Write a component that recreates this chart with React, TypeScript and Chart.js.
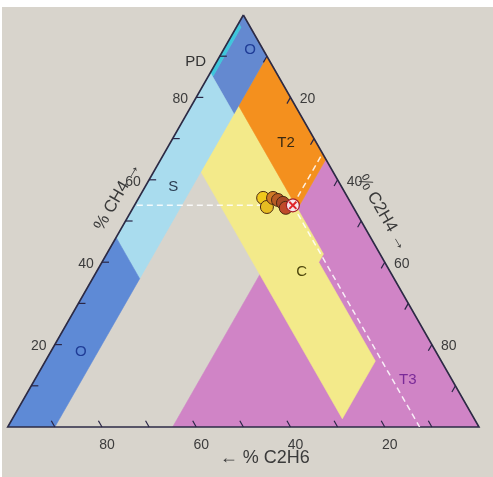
import React, { useEffect, useRef } from "react";
import { Chart, registerables } from "chart.js";

Chart.register(...registerables);

const SQ = Math.sqrt(3) / 2;
const FONT = "'Liberation Sans', Arial, sans-serif";

// Gas samples in percent (CH4, C2H4, C2H6); the last one is the latest sample
const sampleCH4 = [55.6, 53.4, 55.6, 55.1, 54.4, 53.2, 53.8];
const sampleC2H4 = [26.4, 28.3, 28.5, 29.8, 31.2, 32.4, 33.6];
const sampleC2H6 = [18.0, 18.3, 15.9, 15.1, 14.4, 14.4, 12.6];
const sampleColors = ["#f0c81c", "#e6bc22", "#cf7a26", "#b85c24", "#a94a26", "#bf4a2a"];

// Axis ticks
const tickValues = [10, 20, 30, 40, 50, 60, 70, 80, 90];
const labeledTicks = [20, 40, 60, 80];
const axisTitles = ["% CH4 \u2192", "% C2H4 \u2192", "\u2190 % C2H6"];

// Zone polygons, vertices as [CH4, C2H4, C2H6]
const zoneT3 = [[65, 35, 0], [0, 100, 0], [0, 35, 65]];
const zoneC = [[78, 10, 12], [53, 35, 12], [42, 46, 12], [40, 46, 14], [16, 70, 14], [2, 70, 28], [62, 10, 28]];
const zoneT2 = [[90, 10, 0], [65, 35, 0], [53, 35, 12], [78, 10, 12]];
const zoneOTop = [[100, 0, 0], [98, 0, 2], [97, 1, 2], [85, 1, 14], [76, 10, 14], [90, 10, 0]];
const zonePD = [[98, 0, 2], [97, 1, 2], [85, 1, 14], [86, 0, 14]];
const zoneS = [[86, 0, 14], [46, 0, 54], [36, 10, 54], [76, 10, 14]];
const zoneOBottom = [[46, 0, 54], [0, 0, 100], [0, 10, 90], [36, 10, 54]];
const triangle = [[100, 0, 0], [0, 100, 0], [0, 0, 100]];

const zones = [
  { poly: zoneT3, color: "#d084c6" },
  { poly: zoneC, color: "#f3ea8a" },
  { poly: zoneT2, color: "#f4901e" },
  { poly: zoneOTop, color: "#6489d0" },
  { poly: zonePD, color: "#3ec6dc" },
  { poly: zoneS, color: "#a9dcee" },
  { poly: zoneOBottom, color: "#5e8ad6" },
];

// Zone name annotations (anchor in [CH4, C2H4, C2H6])
const zoneNames = [
  { text: "PD", at: [88.6, -4.4, 15.8], color: "#333333" },
  { text: "O", at: [91.5, 5.7, 2.8], color: "#1f3c96" },
  { text: "S", at: [58.3, 6.0, 35.7], color: "#2b3d52" },
  { text: "T2", at: [68.9, 24.6, 6.5], color: "#3a2a12" },
  { text: "C", at: [37.6, 43.6, 18.8], color: "#4e470c" },
  { text: "T3", at: [11.4, 79.2, 9.4], color: "#7a2a98" },
  { text: "O", at: [18.2, 6.4, 75.4], color: "#1f3c96" },
];

const T = (p: number[]) => ({ x: (p[1] + p[0] / 2) / 100, y: (p[0] / 100) * SQ });
const closed = (poly: number[][]) => [...poly, poly[0]].map(T);

function px(chart: any, p: number[]) {
  const xy = T(p);
  return [chart.scales.x.getPixelForValue(xy.x), chart.scales.y.getPixelForValue(xy.y)];
}

const decorPlugin = {
  id: "ternaryDecor",
  beforeDraw(chart: any) {
    const { ctx, width, height } = chart;
    ctx.save();
    ctx.fillStyle = "#ffffff";
    ctx.fillRect(0, 0, width, height);
    ctx.fillStyle = "#d8d4cc";
    ctx.fillRect(2, 7, width - 2, height - 7);
    ctx.restore();
  },
  afterDatasetsDraw(chart: any) {
    const ctx = chart.ctx;
    ctx.save();
    const seg = (a: number[], b: number[]) => {
      ctx.beginPath();
      ctx.moveTo(a[0], a[1]);
      ctx.lineTo(b[0], b[1]);
      ctx.stroke();
    };
    ctx.strokeStyle = "#2a2646";
    ctx.lineWidth = 1.2;
    tickValues.forEach((v) => {
      seg(px(chart, [v, 0, 100 - v]), px(chart, [v, 1.5, 98.5 - v]));
      seg(px(chart, [100 - v, v, 0]), px(chart, [98.5 - v, v, 1.5]));
      seg(px(chart, [0, 100 - v, v]), px(chart, [1.5, 98.5 - v, v]));
    });

    ctx.textAlign = "center";
    ctx.textBaseline = "middle";
    ctx.font = `14px ${FONT}`;
    ctx.fillStyle = "#3c3c3c";
    labeledTicks.forEach((v) => {
      const l = px(chart, [v, 0, 100 - v]);
      ctx.fillText(String(v), l[0] - 16, l[1] + 2);
      const r = px(chart, [100 - v, v, 0]);
      ctx.fillText(String(v), r[0] + 17, r[1] + 2);
      const b = px(chart, [0, 100 - v, v]);
      ctx.fillText(String(v), b[0] + 5, b[1] + 18);
    });

    ctx.font = `15px ${FONT}`;
    zoneNames.forEach((z) => {
      const p = px(chart, z.at);
      ctx.fillStyle = z.color;
      ctx.fillText(z.text, p[0], p[1]);
    });

    ctx.font = `17px ${FONT}`;
    ctx.fillStyle = "#3a3a3a";
    const l = px(chart, [55, 0, 45]);
    ctx.save();
    ctx.translate(l[0] - 20, l[1] - 4);
    ctx.rotate(-Math.PI / 3);
    ctx.fillText(axisTitles[0], 0, 0);
    ctx.restore();

    const r = px(chart, [52, 48, 0]);
    ctx.save();
    ctx.translate(r[0] + 26, r[1] + 0);
    ctx.rotate(Math.PI / 3);
    ctx.fillText(axisTitles[1], 0, 0);
    ctx.restore();

    ctx.font = `18px ${FONT}`;
    const b = px(chart, [0, 52, 48]);
    ctx.fillText(axisTitles[2], b[0] + 12, b[1] + 31);
    ctx.restore();
  },
};

export default function App() {
  const ref = useRef<HTMLCanvasElement | null>(null);

  useEffect(() => {
    if (!ref.current) return;
    const n = sampleCH4.length;
    const samples = sampleCH4.map((a, i) => [a, sampleC2H4[i], sampleC2H6[i]]);
    const last = samples[n - 1];
    const [la, lb, lc] = last;

    const zoneSets = zones.map((z, i) => ({
      type: "line",
      data: closed(z.poly),
      showLine: true,
      fill: "shape",
      backgroundColor: z.color,
      borderColor: z.color,
      borderWidth: 0.6,
      pointRadius: 0,
      order: 40 - i,
    }));

    const dash = (target: number[]) => ({
      type: "line",
      data: [T(last), T(target)],
      showLine: true,
      fill: false,
      borderColor: "rgba(255,255,255,0.85)",
      borderWidth: 1.5,
      borderDash: [6, 4],
      pointRadius: 0,
      order: 6,
    });

    const chart = new Chart(ref.current, {
      type: "scatter",
      data: {
        datasets: [
          ...zoneSets,
          {
            type: "line",
            data: closed(triangle),
            showLine: true,
            fill: false,
            borderColor: "#2d2b45",
            borderWidth: 1.6,
            pointRadius: 0,
            clip: 6,
            order: 8,
          },
          dash([la, 0, 100 - la]),
          dash([100 - lb, lb, 0]),
          dash([0, 100 - lc, lc]),
          {
            type: "scatter",
            data: samples.slice(0, n - 1).map(T),
            showLine: false,
            pointRadius: 6.5,
            pointBackgroundColor: sampleColors,
            pointBorderColor: "#4b2a12",
            pointBorderWidth: 1,
            order: 3,
          },
          {
            type: "scatter",
            data: [T(last)],
            showLine: false,
            pointRadius: 6.5,
            pointBackgroundColor: "#f6e4ea",
            pointBorderColor: "#a8202a",
            pointBorderWidth: 1.2,
            order: 2,
          },
          {
            type: "scatter",
            data: [T(last)],
            showLine: false,
            pointStyle: "crossRot",
            pointRadius: 5,
            pointBorderColor: "#e0242a",
            pointBorderWidth: 2,
            order: 1,
          },
        ] as any,
      },
      options: {
        animation: false,
        responsive: false,
        devicePixelRatio: 1,
        events: [],
        layout: { padding: { left: 3, right: 14, top: 15, bottom: 50 } },
        scales: {
          x: { type: "linear", min: 0, max: 1, display: false },
          y: { type: "linear", min: 0, max: SQ, display: false },
        },
        plugins: { legend: { display: false }, tooltip: { enabled: false } },
      },
      plugins: [decorPlugin],
    });
    return () => chart.destroy();
  }, []);

  return (
    <canvas
      ref={ref}
      width={493}
      height={477}
      style={{ position: "fixed", left: 0, top: 0, width: 493, height: 477 }}
    />
  );
}
